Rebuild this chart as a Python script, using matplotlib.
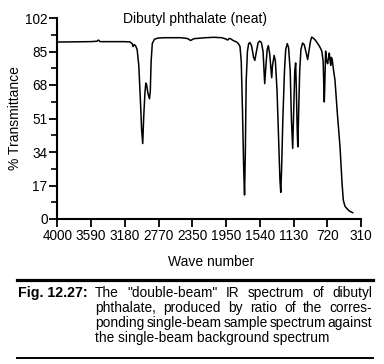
import matplotlib
matplotlib.use("Agg")
import matplotlib.pyplot as plt
from matplotlib.lines import Line2D
from matplotlib.ticker import FixedLocator, MultipleLocator

plt.rcParams['font.family'] = ['Liberation Sans', 'DejaVu Sans']

wavenumber = [4000, 3800, 3600, 3520, 3500, 3480, 3400, 3200, 3120, 3090, 3080, 3065, 3050,
              3030, 3010, 2990, 2975, 2962, 2950, 2935, 2925, 2914, 2900, 2880, 2870, 2860,
              2846, 2820, 2780, 2700, 2500, 2420, 2380, 2340, 2200, 2100, 2000, 1950, 1930,
              1915, 1900, 1860, 1820, 1800, 1780, 1765, 1750, 1735, 1725, 1715, 1705, 1690,
              1675, 1660, 1640, 1615, 1600, 1585, 1560, 1540, 1520, 1500, 1480, 1465, 1450,
              1436, 1420, 1395, 1385, 1365, 1350, 1330, 1310, 1295, 1285, 1275, 1260, 1240,
              1225, 1206, 1190, 1170, 1155, 1140, 1128, 1115, 1104, 1095, 1085, 1078, 1070,
              1055, 1040, 1020, 1000, 980, 958, 940, 925, 909, 890, 870, 848, 820, 800, 785,
              770, 760, 756, 750, 740, 728, 715, 705, 695, 685, 678, 670, 660, 645, 626, 600,
              565, 540, 525, 505, 484, 450, 411]
transmittance = [89.8, 89.9, 90.0, 90.2, 90.8, 90.0, 90.0, 90.0, 89.9, 89.0, 87.5, 88.5, 88.0,
                 86.0, 78, 60, 45, 38.3, 52, 64, 69, 68, 64, 61, 65, 80,
                 89, 91.2, 91.8, 92.0, 92.0, 91.6, 90.6, 91.5, 92.0, 92.2, 92.0, 91.3, 90.8,
                 91.5, 91.6, 90.5, 89.8, 89, 87.5, 80, 55, 25, 12.2, 35, 70, 85,
                 89, 89.5, 88, 82, 80.5, 84, 89.5, 90.3, 89.5, 85, 68.7, 78, 86,
                 88, 84, 71.7, 78, 83, 80, 65, 40, 20, 13.5, 25, 50, 75,
                 86, 89, 87, 75, 50, 35.8, 55, 75, 79.2, 65, 45, 36.6, 50,
                 75, 86, 89.3, 88.5, 85, 80.9, 86, 90, 92.3, 91.8, 91, 89.8, 88, 86.5, 85,
                 80, 65, 59.4, 68, 85.2, 80, 78.8, 82, 84.2, 80, 78, 82, 81, 76, 70.4, 55,
                 36.6, 18, 9.6, 6.5, 5.4, 4, 3.2]

x_tick_values = [4000, 3590, 3180, 2770, 2360, 1950, 1540, 1130, 720, 310]
x_tick_labels = ["4000", "3590", "3180", "2770", "2350", "1950", "1540", "1130", "720", "310"]
y_tick_values = [0, 17, 34, 51, 68, 85, 102]

title = "Dibutyl phthalate (neat)"
caption_label = "Fig. 12.27:"
caption_lines = ['The "double-beam" IR spectrum of dibutyl',
                 'phthalate, produced by ratio of the corres-',
                 'ponding single-beam sample spectrum against',
                 'the single-beam background spectrum']

W, H = 384, 364
fig = plt.figure(figsize=(W / 100, H / 100), dpi=100)
ax = fig.add_axes([57.3 / W, 1 - 219 / H, (361 - 57.3) / W, (219 - 18) / H])

ax.plot(wavenumber, transmittance, color='black', lw=1.1)
ax.set_xlim(4000, 310)
ax.set_ylim(0, 102)

for s in ['top', 'right']:
    ax.spines[s].set_visible(False)
for s in ['left', 'bottom']:
    ax.spines[s].set_linewidth(1.5)

ax.xaxis.set_major_locator(FixedLocator(x_tick_values))
ax.set_xticklabels(x_tick_labels)
ax.yaxis.set_major_locator(FixedLocator(y_tick_values))
ax.yaxis.set_minor_locator(MultipleLocator(8.5))
ax.tick_params(axis='both', which='major', direction='out', length=5.5, width=1.3,
               labelsize=9.8, pad=1.5, colors='black')
ax.tick_params(axis='y', which='minor', direction='out', length=4.5, width=1.2)

fig.text(195 / W, 1 - 19 / H, title, ha='center', va='center', fontsize=10)
fig.text(15 / W, 1 - 118 / H, "% Transmittance", rotation=90, ha='center', va='center', fontsize=10)
fig.text(211 / W, 1 - 262.5 / H, "Wave number", ha='center', va='center', fontsize=10)

fig.add_artist(Line2D([17 / W, 373 / W], [1 - 280 / H, 1 - 280 / H], color='black', lw=2.3,
                      transform=fig.transFigure))
fig.add_artist(Line2D([17 / W, 373 / W], [1 - 358 / H, 1 - 358 / H], color='black', lw=1.4,
                      transform=fig.transFigure))

cap_fs = 9.9
line_y = [293, 308, 323, 338]
fig.text(18 / W, 1 - line_y[0] / H, caption_label, fontweight='bold', fontsize=10.2,
         ha='left', va='center')

fig.canvas.draw()
renderer = fig.canvas.get_renderer()
x_left, x_right = 95, 372
for i, line in enumerate(caption_lines):
    y = 1 - line_y[i] / H
    if i == len(caption_lines) - 1:
        fig.text(x_left / W, y, line, fontsize=cap_fs, ha='left', va='center')
        continue
    words = line.split(' ')
    texts = [fig.text(0, y, w, fontsize=cap_fs, ha='left', va='center') for w in words]
    widths = [t.get_window_extent(renderer).width for t in texts]
    gap = max((x_right - x_left - sum(widths)) / (len(words) - 1), 2.0)
    xpos = x_left
    for t, wdt in zip(texts, widths):
        t.set_x(xpos / W)
        xpos += wdt + gap

fig.savefig("out.png", dpi=100)
